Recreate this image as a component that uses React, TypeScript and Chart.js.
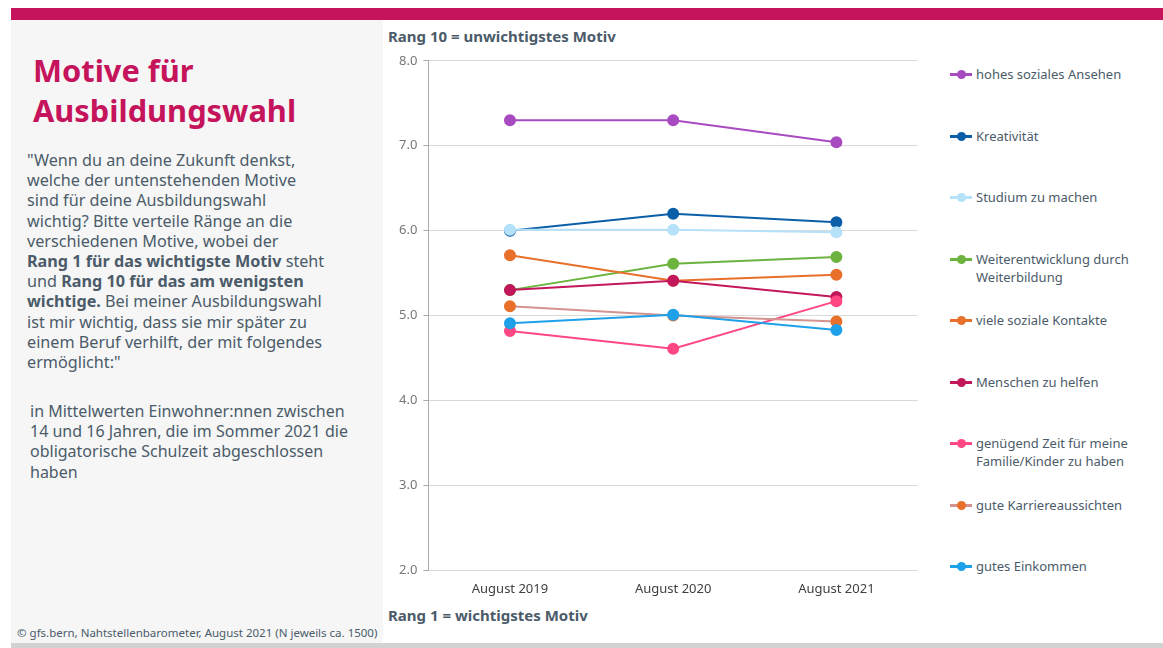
import React, { useEffect, useRef } from "react";
import { Chart, registerables } from "chart.js";

Chart.register(...registerables);

const categories = ["August 2019", "August 2020", "August 2021"];
const seriesNames = [
  "hohes soziales Ansehen",
  "Kreativität",
  "Studium zu machen",
  "Weiterentwicklung durch Weiterbildung",
  "viele soziale Kontakte",
  "Menschen zu helfen",
  "genügend Zeit für meine Familie/Kinder zu haben",
  "gute Karriereaussichten",
  "gutes Einkommen",
];
const legendLabels = [
  ["hohes soziales Ansehen"],
  ["Kreativität"],
  ["Studium zu machen"],
  ["Weiterentwicklung durch", "Weiterbildung"],
  ["viele soziale Kontakte"],
  ["Menschen zu helfen"],
  ["genügend Zeit für meine", "Familie/Kinder zu haben"],
  ["gute Karriereaussichten"],
  ["gutes Einkommen"],
];
const ansehen = [7.3, 7.3, 7.04];
const kreativitaet = [6.0, 6.2, 6.1];
const studium = [6.01, 6.01, 5.98];
const weiterentwicklung = [5.3, 5.61, 5.69];
const kontakte = [5.71, 5.41, 5.48];
const helfen = [5.3, 5.41, 5.22];
const zeit = [4.82, 4.61, 5.17];
const karriere = [5.11, 5.0, 4.93];
const einkommen = [4.91, 5.01, 4.83];
const seriesValues = [ansehen, kreativitaet, studium, weiterentwicklung, kontakte, helfen, zeit, karriere, einkommen];
const lineColors = ["#a84bc0", "#0b5fa8", "#b5e1f9", "#6db33f", "#e8702a", "#c2185b", "#ff4784", "#d4938f", "#1ea1e8"];
const pointColors = ["#a84bc0", "#0b5fa8", "#b5e1f9", "#6db33f", "#e8702a", "#c2185b", "#ff4784", "#e8702a", "#1ea1e8"];
const yTicks = [2, 3, 4, 5, 6, 7, 8];

const FONT = "'Noto Sans', sans-serif";
const TEXT = "#4b5b69";

export default function App() {
  const ref = useRef<HTMLCanvasElement | null>(null);
  useEffect(() => {
    if (!ref.current) return;
    const n = seriesNames.length;
    const chart = new Chart(ref.current, {
      type: "line",
      data: {
        labels: categories,
        datasets: seriesNames.map((name, i) => ({
          label: name,
          data: seriesValues[i],
          borderColor: lineColors[i],
          backgroundColor: pointColors[i],
          pointBackgroundColor: pointColors[i],
          pointBorderColor: pointColors[i],
          pointRadius: 5,
          pointHoverRadius: 5,
          borderWidth: 2,
          tension: 0,
          order: n - i,
        })),
      },
      options: {
        responsive: false,
        animation: false,
        maintainAspectRatio: false,
        layout: { padding: { left: 10, right: 10, top: 10, bottom: 0 } },
        plugins: { legend: { display: false }, tooltip: { enabled: false } },
        scales: {
          x: {
            offset: true,
            grid: { display: false },
            border: { display: false },
            ticks: { color: "#404040", font: { family: FONT, size: 13 }, padding: 3 },
          },
          y: {
            min: yTicks[0],
            max: yTicks[yTicks.length - 1],
            afterBuildTicks: (axis: any) => {
              axis.ticks = yTicks.map((v) => ({ value: v }));
            },
            grid: { color: "#d9d9d9", lineWidth: 1, tickLength: 5, tickColor: "#aaaaaa" },
            border: { display: true, color: "#aaaaaa", width: 1 },
            ticks: {
              color: "#777777",
              font: { family: FONT, size: 13 },
              padding: 6,
              callback: (v: any) => Number(v).toFixed(1),
            },
          },
        },
      },
    });
    return () => chart.destroy();
  }, []);

  const legendTops = [74, 136, 197, 259, 320, 382, 443, 505, 566];

  return (
    <div style={{ position: "fixed", left: 0, top: 0, width: 1163, height: 648, background: "#fff", fontFamily: FONT, overflow: "hidden" }}>
      <div style={{ position: "absolute", left: 11, top: 8, width: 1152, height: 12, background: "#c5135c" }} />
      <div style={{ position: "absolute", left: 11, top: 20, width: 372, height: 623, background: "#f6f6f6" }} />
      <div style={{ position: "absolute", left: 11, top: 643, width: 1152, height: 5, background: "#d2d2d2" }} />
      <div style={{ position: "absolute", left: 33, top: 50, color: "#c5135c", fontWeight: 700, fontSize: 30.8, lineHeight: "40px", whiteSpace: "nowrap" }}>
        Motive für<br />Ausbildungswahl
      </div>
      <div style={{ position: "absolute", left: 27, top: 150, color: TEXT, fontSize: 16.2, lineHeight: "20.2px", whiteSpace: "nowrap" }}>
        "Wenn du an deine Zukunft denkst,<br />
        welche der untenstehenden Motive<br />
        sind für deine Ausbildungswahl<br />
        wichtig? Bitte verteile Ränge an die<br />
        verschiedenen Motive, wobei der<br />
        <b>Rang 1 für das wichtigste Motiv</b> steht<br />
        und <b>Rang 10 für das am wenigsten</b><br />
        <b>wichtige.</b> Bei meiner Ausbildungswahl<br />
        ist mir wichtig, dass sie mir später zu<br />
        einem Beruf verhilft, der mit folgendes<br />
        ermöglicht:"
      </div>
      <div style={{ position: "absolute", left: 30, top: 401, color: TEXT, fontSize: 16, lineHeight: "20.2px", whiteSpace: "nowrap" }}>
        in Mittelwerten Einwohner:nnen zwischen<br />
        14 und 16 Jahren, die im Sommer 2021 die<br />
        obligatorische Schulzeit abgeschlossen<br />
        haben
      </div>
      <div style={{ position: "absolute", left: 17, top: 625, color: TEXT, fontSize: 11.5, whiteSpace: "nowrap" }}>
        © gfs.bern, Nahtstellenbarometer, August 2021 (N jeweils ca. 1500)
      </div>
      <div style={{ position: "absolute", left: 388, top: 26, color: TEXT, fontSize: 15, fontWeight: 700, whiteSpace: "nowrap" }}>
        Rang 10 = unwichtigstes Motiv
      </div>
      <div style={{ position: "absolute", left: 388, top: 605, color: TEXT, fontSize: 15, fontWeight: 700, whiteSpace: "nowrap" }}>
        Rang 1 = wichtigstes Motiv
      </div>
      <canvas ref={ref} width={545} height={553} style={{ position: "absolute", left: 383, top: 47, width: 545, height: 553 }} />
      {legendLabels.map((lines, i) => (
        <div key={i} style={{ position: "absolute", left: 950, top: legendTops[i] - 9, display: "flex", alignItems: "flex-start" }}>
          <div style={{ position: "relative", width: 22, height: 18, flex: "none" }}>
            <div style={{ position: "absolute", left: 0, top: 8, width: 22, height: 3, background: lineColors[i] }} />
            <div style={{ position: "absolute", left: 7, top: 5, width: 9, height: 9, borderRadius: 5, background: pointColors[i] }} />
          </div>
          <div style={{ color: TEXT, fontSize: 13, lineHeight: "18px", marginLeft: 4, whiteSpace: "nowrap" }}>
            {lines.map((l, j) => (
              <div key={j}>{l}</div>
            ))}
          </div>
        </div>
      ))}
    </div>
  );
}
